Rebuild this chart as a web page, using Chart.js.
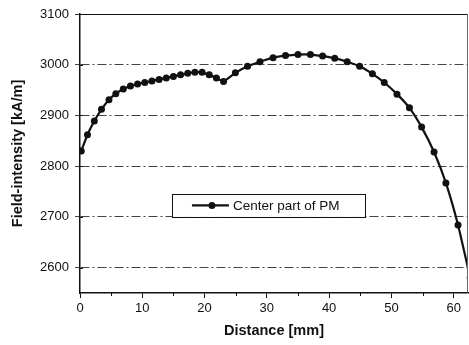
<!DOCTYPE html>
<html><head><meta charset="utf-8">
<script src="https://cdn.jsdelivr.net/npm/chart.js@4/dist/chart.umd.min.js"></script>
<style>html,body{margin:0;padding:0;background:#fff}canvas{display:block}</style>
</head><body>
<canvas id="c" width="469" height="345"></canvas>
<script>
const distance = [0.2, 1.2, 2.3, 3.45, 4.65, 5.75, 6.95, 8.1, 9.25, 10.4, 11.55, 12.7, 13.85, 15.0, 16.15, 17.3, 18.45, 19.6, 20.75, 21.9, 23.05,
  24.95, 26.9, 28.9, 31.0, 33.0, 35.0, 37.0, 38.95, 40.9, 42.9, 44.9, 46.95, 48.85, 50.9, 52.9, 54.85, 56.85, 58.75, 60.7, 62.65];
const fieldIntensity = [2830, 2862, 2889, 2912, 2931, 2943, 2952, 2958, 2962, 2965, 2968, 2971, 2974, 2977, 2980, 2983, 2985, 2985, 2980, 2974, 2967,
  2984, 2997, 3006, 3014, 3018, 3020, 3020, 3017, 3013, 3006, 2997, 2982, 2965, 2942, 2915, 2877, 2828, 2767, 2684, 2580];
const xTicks = [0, 10, 20, 30, 40, 50, 60];
const yTicks = [2600, 2700, 2800, 2900, 3000, 3100];
const xRange = [0, 62.3];
const yRange = [2550, 3100];
const seriesLabel = 'Center part of PM';
const xTitle = 'Distance [mm]';
const yTitle = 'Field-intensity [kA/m]';

const FONT = "'Liberation Sans', Arial, sans-serif";
Chart.defaults.font.family = FONT;
Chart.defaults.color = '#111';

const framePlugin = {
  id: 'frame',
  afterDatasetsDraw(chart) {
    const {ctx, chartArea: a} = chart;
    const xs = chart.scales.x, ys = chart.scales.y;
    ctx.save();
    ctx.strokeStyle = '#111';
    ctx.lineWidth = 1.2;
    ctx.beginPath();
    ctx.moveTo(a.left, a.top + 0.5); ctx.lineTo(a.right, a.top + 0.5);
    ctx.stroke();
    ctx.strokeStyle = '#666';
    ctx.lineWidth = 1;
    ctx.beginPath();
    ctx.moveTo(a.right - 0.5, a.top); ctx.lineTo(a.right - 0.5, a.bottom);
    ctx.stroke();
    ctx.strokeStyle = '#111';
    ctx.beginPath();
    for (let v = yRange[0] + 50; v < yRange[1]; v += 100) {
      const p = Math.round(ys.getPixelForValue(v)) + 0.5;
      ctx.moveTo(a.left, p); ctx.lineTo(a.left + 3, p);
    }
    for (let v = 5; v < xRange[1]; v += 10) {
      const p = Math.round(xs.getPixelForValue(v)) + 0.5;
      ctx.moveTo(p, a.bottom); ctx.lineTo(p, a.bottom + 3);
    }
    ctx.stroke();
    ctx.restore();
  },
  afterDraw(chart) {
    const {ctx, chartArea: a} = chart;
    const w = a.right - a.left, h = a.bottom - a.top;
    const bx = a.left + 0.237 * w, by = a.top + 0.645 * h;
    const bw = 0.497 * w, bh = 23;
    ctx.save();
    ctx.fillStyle = '#fff';
    ctx.fillRect(bx, by, bw, bh);
    ctx.strokeStyle = '#111';
    ctx.lineWidth = 1;
    ctx.strokeRect(Math.round(bx) + 0.5, Math.round(by) + 0.5, Math.round(bw), bh);
    const cy = by + bh / 2;
    ctx.lineWidth = 2.2;
    ctx.beginPath();
    ctx.moveTo(bx + 20, cy); ctx.lineTo(bx + 57, cy);
    ctx.stroke();
    ctx.fillStyle = '#111';
    ctx.beginPath();
    ctx.arc(bx + 40, cy, 3.5, 0, Math.PI * 2);
    ctx.fill();
    ctx.font = "13.5px " + FONT;
    ctx.textBaseline = 'middle';
    ctx.textAlign = 'left';
    ctx.fillText(seriesLabel, bx + 61, cy + 1);
    ctx.restore();
  }
};

new Chart(document.getElementById('c'), {
  type: 'line',
  data: {
    datasets: [{
      label: seriesLabel,
      data: distance.map((x, i) => ({x, y: fieldIntensity[i]})),
      borderColor: '#111',
      backgroundColor: '#111',
      borderWidth: 2.2,
      pointRadius: 3.5,
      pointBorderWidth: 0,
      pointBackgroundColor: '#111',
      tension: 0.15
    }]
  },
  options: {
    responsive: false,
    animation: false,
    devicePixelRatio: 1,
    layout: {autoPadding: false, padding: {left: 0, top: 14, right: 1, bottom: 0}},
    plugins: {legend: {display: false}, tooltip: {enabled: false}},
    scales: {
      x: {
        type: 'linear',
        min: xRange[0], max: xRange[1],
        afterBuildTicks: s => { s.ticks = xTicks.map(v => ({value: v})); },
        afterFit: s => { s.height = 52; s.paddingLeft = 0; s.paddingRight = 0; },
        grid: {drawOnChartArea: false, drawTicks: true, tickLength: 5, color: '#111'},
        border: {display: true, color: '#111', width: 1.5},
        ticks: {font: {size: 13}, padding: 3, maxRotation: 0, color: '#111', callback: v => String(v)},
        title: {display: true, text: xTitle, font: {size: 14.5, weight: 'bold'}, padding: {top: 0, bottom: 5}, color: '#111'}
      },
      y: {
        min: yRange[0], max: yRange[1],
        afterBuildTicks: s => { s.ticks = yTicks.map(v => ({value: v})); },
        afterFit: s => { s.width = 80; s.paddingTop = 0; s.paddingBottom = 0; },
        grid: {drawOnChartArea: true, drawTicks: true, tickLength: 5, color: '#444', lineWidth: 1},
        border: {display: true, color: '#111', width: 1.5, dash: [9, 3, 2, 3]},
        ticks: {font: {size: 13}, padding: 6, color: '#111', callback: v => String(v)},
        title: {display: true, text: yTitle, font: {size: 14.5, weight: 'bold'}, padding: {top: 9, bottom: 0}, color: '#111'}
      }
    }
  },
  plugins: [framePlugin]
});
</script>
</body></html>
